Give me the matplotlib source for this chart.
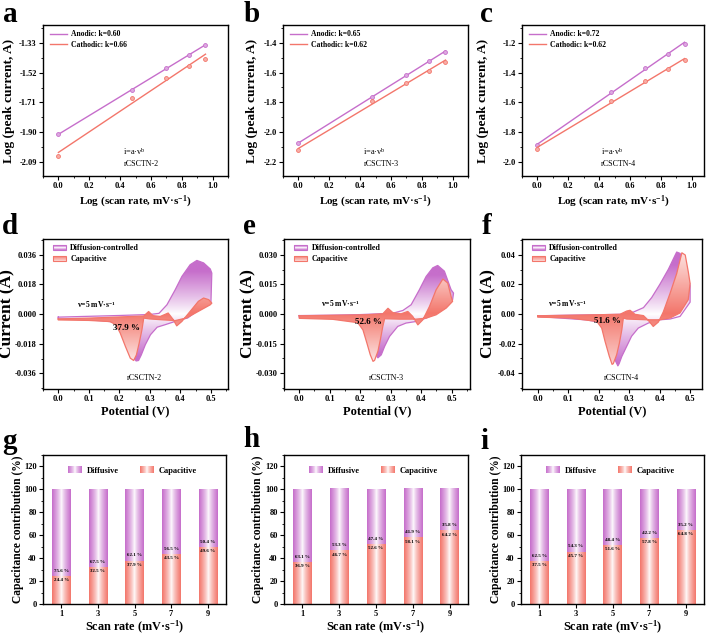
import numpy as np
import matplotlib
matplotlib.use('Agg')
import matplotlib.pyplot as plt
from matplotlib.patches import Polygon, Rectangle, Patch
from matplotlib.ticker import AutoMinorLocator, FixedLocator, FormatStrFormatter
from matplotlib.legend_handler import HandlerBase
from matplotlib.colors import to_rgb

plt.rcParams['font.family'] = ['Liberation Serif', 'DejaVu Serif']
plt.rcParams['font.weight'] = 'bold'
plt.rcParams['axes.labelweight'] = 'bold'
plt.rcParams['mathtext.default'] = 'regular'

PURPLE = '#c66ecb'
RED = '#f3766b'

# ---------------- data ----------------
# a-c: log(scan rate) vs log(peak current)
log_v = [0.0, 0.477, 0.699, 0.845, 0.954]
anodic_2 = [-1.912, -1.630, -1.493, -1.408, -1.345]
cathodic_2 = [-2.050, -1.679, -1.552, -1.478, -1.432]
anodic_3 = [-2.073, -1.761, -1.618, -1.525, -1.460]
cathodic_3 = [-2.120, -1.790, -1.667, -1.589, -1.529]
anodic_4 = [-1.886, -1.528, -1.372, -1.276, -1.207]
cathodic_4 = [-1.909, -1.588, -1.458, -1.376, -1.318]
k_anodic = ['0.60', '0.65', '0.72']
k_cathodic = ['0.66', '0.62', '0.62']
samples = ['rCSCTN-2', 'rCSCTN-3', 'rCSCTN-4']

# d-f: CV at 5 mV/s, total (diffusion) loop and capacitive loop
cv2_tot_v = [0.0, 0.10, 0.20, 0.30, 0.33, 0.356, 0.383, 0.405, 0.432, 0.454, 0.476, 0.498, 0.503, 0.500,
             0.459, 0.424, 0.383, 0.35, 0.324, 0.302, 0.285, 0.272, 0.263, 0.255, 0.245, 0.235, 0.222,
             0.205, 0.185, 0.15, 0.10, 0.05, 0.0]
cv2_tot_i = [-0.0019, -0.0014, -0.0009, -0.0003, 0.0004, 0.0056, 0.0147, 0.0228, 0.0299, 0.0325, 0.0310,
             0.0273, 0.0248, 0.0066, 0.0024, -0.0024, -0.0045, -0.0065, -0.0080, -0.0126, -0.0187,
             -0.0248, -0.0282, -0.0285, -0.0260, -0.0210, -0.0140, -0.0075, -0.0050, -0.0042, -0.0036,
             -0.0032, -0.0030]
cv2_cap_v = [0.0, 0.10, 0.20, 0.28, 0.296, 0.31, 0.334, 0.36, 0.377, 0.388, 0.405, 0.432, 0.459, 0.476,
             0.493, 0.503, 0.498, 0.459, 0.42, 0.383, 0.339, 0.30, 0.28, 0.274, 0.265, 0.256, 0.247,
             0.236, 0.22, 0.203, 0.189, 0.17, 0.10, 0.0]
cv2_cap_i = [-0.0030, -0.0025, -0.0018, -0.0012, 0.0015, -0.0010, -0.0015, 0.0006, -0.0035, -0.0072,
             -0.0045, 0.0016, 0.0077, 0.0097, 0.0087, 0.0066, 0.0056, 0.0016, -0.0024, -0.0040, -0.0035,
             -0.0030, -0.0025, -0.0096, -0.0177, -0.0248, -0.0282, -0.0268, -0.0197, -0.0116, -0.0066,
             -0.0046, -0.0039, -0.0036]

cv3_tot_v = [0.0, 0.10, 0.20, 0.307, 0.34, 0.367, 0.394, 0.416, 0.438, 0.454, 0.476, 0.498, 0.506, 0.503,
             0.482, 0.449, 0.416, 0.383, 0.35, 0.323, 0.296, 0.28, 0.269, 0.258, 0.248, 0.236, 0.222,
             0.205, 0.165, 0.10, 0.0]
cv3_tot_i = [-0.0008, -0.0006, -0.0003, 0.0004, 0.0018, 0.0047, 0.0123, 0.0190, 0.0234, 0.0246, 0.0217,
             0.0123, 0.0106, 0.0073, 0.0040, 0.0004, -0.0021, -0.0038, -0.0046, -0.0063, -0.0114,
             -0.0164, -0.0207, -0.0222, -0.0200, -0.0150, -0.0090, -0.0050, -0.0030, -0.0022, -0.0017]
cv3_cap_v = [0.0, 0.10, 0.22, 0.274, 0.291, 0.307, 0.334, 0.356, 0.372, 0.389, 0.405, 0.427, 0.449, 0.471,
             0.487, 0.498, 0.503, 0.482, 0.449, 0.416, 0.383, 0.329, 0.28, 0.274, 0.266, 0.258, 0.247,
             0.242, 0.233, 0.222, 0.209, 0.192, 0.11, 0.0]
cv3_cap_i = [-0.0009, -0.0007, -0.0004, 0.0001, 0.0029, 0.0007, 0.0001, 0.0013, -0.0012, -0.0055, -0.0030,
             0.0038, 0.0123, 0.0177, 0.0157, 0.0089, 0.0064, 0.0030, -0.0004, -0.0021, -0.0026, -0.0026,
             -0.0024, -0.0063, -0.0130, -0.0189, -0.0235, -0.0240, -0.0207, -0.0148, -0.0081, -0.0044,
             -0.0027, -0.0022]

cv4_tot_v = [0.0, 0.10, 0.20, 0.27, 0.314, 0.347, 0.374, 0.401, 0.429, 0.45, 0.456, 0.467, 0.482, 0.494,
             0.50, 0.50, 0.467, 0.434, 0.401, 0.363, 0.33, 0.308, 0.292, 0.276, 0.267, 0.263, 0.256,
             0.245, 0.232, 0.218, 0.20, 0.161, 0.051, 0.0]
cv4_tot_i = [-0.0012, -0.0008, -0.0005, -0.0002, 0.0013, 0.0043, 0.0111, 0.0201, 0.0303, 0.0393, 0.0418,
             0.0409, 0.0330, 0.0247, 0.0190, 0.0080, -0.0016, -0.0034, -0.0039, -0.0061, -0.0095, -0.0150,
             -0.0218, -0.0286, -0.0336, -0.0350, -0.0320, -0.0250, -0.0160, -0.0090, -0.0055, -0.0040,
             -0.0024, -0.0017]
cv4_cap_v = [0.0, 0.10, 0.20, 0.27, 0.292, 0.303, 0.319, 0.347, 0.363, 0.379, 0.396, 0.412, 0.434, 0.456,
             0.473, 0.484, 0.494, 0.50, 0.494, 0.467, 0.434, 0.401, 0.357, 0.292, 0.281, 0.276, 0.268,
             0.259, 0.248, 0.244, 0.235, 0.221, 0.21, 0.194, 0.106, 0.0]
cv4_cap_i = [-0.0012, -0.0009, -0.0005, -0.0002, 0.0020, 0.0025, -0.0002, -0.0011, -0.0043, -0.0084,
             -0.0054, 0.0014, 0.0138, 0.0273, 0.0413, 0.0398, 0.0285, 0.0206, 0.0097, 0.0007, -0.0027,
             -0.0039, -0.0039, -0.0034, -0.0027, -0.0106, -0.0196, -0.0275, -0.0335, -0.0340, -0.0286,
             -0.0185, -0.0095, -0.0050, -0.0027, -0.0021]
cap_pct_5 = ['37.9 %', '52.6 %', '51.6 %']

# g-i: capacitive / diffusive contribution
scan_rates = [1, 3, 5, 7, 9]
cap_2 = [24.4, 32.5, 37.9, 43.5, 49.6]
dif_2 = [75.6, 67.5, 62.1, 56.5, 50.4]
cap_3 = [36.9, 46.7, 52.6, 58.1, 64.2]
dif_3 = [63.1, 53.3, 47.4, 41.9, 35.8]
cap_4 = [37.5, 45.7, 51.6, 57.8, 64.8]
dif_4 = [62.5, 54.3, 48.4, 42.2, 35.2]

# ---------------- helpers ----------------
W, H = 709, 637


def rect(l, r, t, b):
    return [l / W, 1 - b / H, (r - l) / W, (b - t) / H]


def mix(color, t):
    c = np.array(to_rgb(color))
    return (1 - t) * np.ones(3) + t * c


class HandlerGrad(HandlerBase):
    def __init__(self, color, profile, vertical=True, edge=None, n=14):
        super().__init__()
        self.color, self.profile, self.vertical, self.edge, self.n = color, profile, vertical, edge, n

    def create_artists(self, legend, orig_handle, xd, yd, width, height, fontsize, trans):
        arts = []
        for k in range(self.n):
            u = (k + 0.5) / self.n
            col = mix(self.color, self.profile(u))
            if self.vertical:
                r = Rectangle((-xd, -yd + k * height / self.n), width, height / self.n + 0.2,
                              fc=col, ec='none', transform=trans)
            else:
                r = Rectangle((-xd + k * width / self.n, -yd), width / self.n + 0.2, height,
                              fc=col, ec='none', transform=trans)
            arts.append(r)
        if self.edge:
            arts.append(Rectangle((-xd, -yd), width, height, fill=False, ec=self.edge, lw=0.8,
                                  transform=trans))
        return arts


def style(ax):
    for s in ax.spines.values():
        s.set_linewidth(1.0)
    ax.tick_params(which='major', direction='out', length=3, width=0.8, labelsize=6, pad=1.5)
    ax.tick_params(which='minor', direction='out', length=1.6, width=0.6)
    ax.xaxis.set_minor_locator(AutoMinorLocator(2))
    ax.yaxis.set_minor_locator(AutoMinorLocator(2))
    for lab in ax.get_xticklabels() + ax.get_yticklabels():
        lab.set_fontweight('bold')


def labels(ax, xl, xs, yl, ys, ylx, xly):
    ax.set_xlabel(xl, fontsize=xs)
    ax.set_ylabel(yl, fontsize=ys)
    ax.xaxis.label.set_va('center')
    ax.yaxis.label.set_va('center')
    ax.yaxis.set_label_coords(ylx, 0.5)
    ax.xaxis.set_label_coords(0.5, xly)


def shade(ax, xs, ys, color, mode, z):
    pts = np.column_stack([xs, ys])
    poly = Polygon(pts, closed=True, fc='none', ec='none')
    ax.add_patch(poly)
    y0, y1 = min(ys), max(ys)
    m = max(abs(y0), abs(y1))
    yy = np.linspace(y0, y1, 300)
    if mode == 'out':
        t = np.clip(np.abs(yy) / (0.8 * m), 0, 1) ** 0.9
    else:
        t = 1 - 0.8 * np.clip(np.abs(yy) / m, 0, 1)
    img = np.array([mix(color, tt) for tt in t])[:, None, :]
    im = ax.imshow(img, extent=[min(xs), max(xs), y0, y1], origin='lower', aspect='auto',
                   zorder=z, interpolation='bilinear')
    im.set_clip_path(poly)


fig = plt.figure(figsize=(W / 100, H / 100), dpi=100)

letters = [('a', 3, 22), ('b', 244, 22), ('c', 480, 22),
           ('d', 2, 234), ('e', 243, 234), ('f', 482, 234),
           ('g', 2, 449), ('h', 243, 447), ('i', 480, 449)]
for ch, x, y in letters:
    fig.text(x / W, 1 - y / H, ch, fontsize=21, fontweight='bold', va='baseline', ha='left')

# ---------------- row 1 ----------------
top_rects = [rect(43, 228, 25, 176), rect(283, 468, 25, 176), rect(522, 704, 25, 176)]
top_ylims = [(-2.177, -1.218), (-2.292, -1.282), (-2.092, -1.082)]
top_xlims = [(-0.1, 1.1), (-0.1, 1.1), (-0.1, 1.08)]
top_ticks = [[-2.09, -1.90, -1.71, -1.52, -1.33], [-2.2, -2.0, -1.8, -1.6, -1.4],
             [-2.0, -1.8, -1.6, -1.4, -1.2]]
top_fmt = ['%.2f', '%.1f', '%.1f']
top_ylab_x = [-0.185, -0.168, -0.215]
anodic = [anodic_2, anodic_3, anodic_4]
cathodic = [cathodic_2, cathodic_3, cathodic_4]

for i in range(3):
    ax = fig.add_axes(top_rects[i])
    for ys, col, lab in [(anodic[i], PURPLE, f'Anodic: k={k_anodic[i]}'),
                         (cathodic[i], RED, f'Cathodic: k={k_cathodic[i]}')]:
        p = np.polyfit(log_v, ys, 1)
        ax.plot(log_v, np.polyval(p, log_v), color=col, lw=1.0, label=lab)
        ax.plot(log_v, ys, 'o', ms=2.8, mfc=mix(col, 0.6), mec=col, mew=0.6)
    ax.set_xlim(*top_xlims[i])
    ax.set_ylim(*top_ylims[i])
    ax.yaxis.set_major_locator(FixedLocator(top_ticks[i]))
    ax.yaxis.set_major_formatter(FormatStrFormatter(top_fmt[i]))
    ax.set_xticks([0.0, 0.2, 0.4, 0.6, 0.8, 1.0])
    ax.xaxis.set_major_formatter(FormatStrFormatter('%.1f'))
    style(ax)
    labels(ax, 'Log (scan rate, mV·s$^{-1}$)', 8, 'Log (peak current, A)', 9.6,
           top_ylab_x[i], -0.17)
    ax.legend(loc='upper left', bbox_to_anchor=(0.02, 0.985), frameon=False,
              handlelength=2.2, handletextpad=0.6, labelspacing=0.35, borderaxespad=0,
              prop={'weight': 'bold', 'size': 5.5})
    ax.text(0.435, 0.16, 'i=a·v$^{b}$', transform=ax.transAxes, fontsize=6,
            fontweight='normal', va='center')
    ax.text(0.435, 0.08, samples[i], transform=ax.transAxes, fontsize=5.8,
            fontweight='normal', va='center')

# ---------------- row 2 ----------------
mid_rects = [rect(43, 228, 239, 389), rect(284, 470, 239, 389), rect(522, 702, 239, 389)]
mid_xlims = [(-0.05, 0.556), (-0.05, 0.56), (-0.0515, 0.539)]
mid_ylims = [(-0.0455, 0.0455), (-0.038, 0.038), (-0.0506, 0.0506)]
mid_ticks = [[-0.036, -0.018, 0.0, 0.018, 0.036], [-0.030, -0.015, 0.0, 0.015, 0.030],
             [-0.04, -0.02, 0.0, 0.02, 0.04]]
mid_fmt = ['%.3f', '%.3f', '%.2f']
tot_v = [cv2_tot_v, cv3_tot_v, cv4_tot_v]
tot_i = [cv2_tot_i, cv3_tot_i, cv4_tot_i]
cap_v = [cv2_cap_v, cv3_cap_v, cv4_cap_v]
cap_i = [cv2_cap_i, cv3_cap_i, cv4_cap_i]
v_txt = [(0.29, 0.56), (0.305, 0.567), (0.25, 0.567)]
pct_txt = [(0.45, 0.41), (0.456, 0.449), (0.474, 0.453)]
mid_ylab_x = [-0.19, -0.19, -0.185]

for i in range(3):
    ax = fig.add_axes(mid_rects[i])
    shade(ax, tot_v[i], tot_i[i], PURPLE, 'out', 1)
    ax.plot(tot_v[i] + [tot_v[i][0]], tot_i[i] + [tot_i[i][0]], color=PURPLE, lw=0.9, zorder=2)
    shade(ax, cap_v[i], cap_i[i], RED, 'in', 3)
    ax.plot(cap_v[i] + [cap_v[i][0]], cap_i[i] + [cap_i[i][0]], color=RED, lw=0.9, zorder=4)
    ax.set_xlim(*mid_xlims[i])
    ax.set_ylim(*mid_ylims[i])
    ax.yaxis.set_major_locator(FixedLocator(mid_ticks[i]))
    ax.yaxis.set_major_formatter(FormatStrFormatter(mid_fmt[i]))
    ax.set_xticks([0.0, 0.1, 0.2, 0.3, 0.4, 0.5])
    ax.xaxis.set_major_formatter(FormatStrFormatter('%.1f'))
    style(ax)
    labels(ax, 'Potential (V)', 9, 'Current (A)', 12.5, mid_ylab_x[i], -0.15)
    h1 = Patch(label='Diffusion-controlled')
    h2 = Patch(label='Capacitive')
    ax.legend(handles=[h1, h2], loc='upper left', bbox_to_anchor=(0.035, 0.985), frameon=False,
              handlelength=1.7, handleheight=0.6, handletextpad=0.5, labelspacing=0.35,
              borderaxespad=0, prop={'weight': 'bold', 'size': 5.8},
              handler_map={h1: HandlerGrad(PURPLE, lambda u: abs(2 * u - 1) ** 0.8, True, PURPLE),
                           h2: HandlerGrad(RED, lambda u: 0.25 + 0.75 * u, True, RED)})
    ax.text(*v_txt[i], 'v=5 mV·s$^{-1}$', transform=ax.transAxes, fontsize=5.5, ha='center',
            va='center', zorder=6)
    ax.text(*pct_txt[i], cap_pct_5[i], transform=ax.transAxes, fontsize=6.5, ha='center',
            va='center', zorder=6)
    ax.text(0.55, 0.07, samples[i], transform=ax.transAxes, fontsize=5.8, fontweight='normal',
            ha='center', va='center', zorder=6)

# ---------------- row 3 ----------------
bot_rects = [rect(43, 226, 455, 604), rect(284, 468, 455, 604), rect(521, 704, 455, 604)]
caps = [cap_2, cap_3, cap_4]
difs = [dif_2, dif_3, dif_4]
bot_ylab_x = [-0.135, -0.14, -0.135]


def bar_grad(ax, patch, color):
    u = np.linspace(0, 1, 60)
    t = np.abs(2 * u - 1) ** 0.75
    img = np.array([mix(color, tt) for tt in t])[None, :, :]
    x, y = patch.get_x(), patch.get_y()
    ax.imshow(img, extent=[x, x + patch.get_width(), y, y + patch.get_height()], origin='lower',
              aspect='auto', zorder=2, interpolation='bilinear')


for i in range(3):
    ax = fig.add_axes(bot_rects[i])
    b1 = ax.bar(scan_rates, caps[i], width=1.0, color='none', zorder=1)
    b2 = ax.bar(scan_rates, difs[i], bottom=caps[i], width=1.0, color='none', zorder=1)
    for p in b1:
        bar_grad(ax, p, RED)
    for p in b2:
        bar_grad(ax, p, PURPLE)
    for x, c, d in zip(scan_rates, caps[i], difs[i]):
        ax.text(x, c + 4.5, f'{d:.1f} %', fontsize=3.6, ha='center', va='center', zorder=5)
        ax.text(x, c - 3.6, f'{c:.1f} %', fontsize=3.6, ha='center', va='center', zorder=5)
    ax.set_xlim(0, 10)
    ax.set_ylim(0, 130)
    ax.set_xticks(scan_rates)
    ax.set_yticks([0, 20, 40, 60, 80, 100, 120])
    style(ax)
    ax.xaxis.set_minor_locator(FixedLocator([]))
    labels(ax, 'Scan rate (mV·s$^{-1}$)', 8.8, 'Capacitance contribution (%)', 8.3,
           bot_ylab_x[i], -0.16)
    h1 = Patch(label='Diffusive')
    h2 = Patch(label='Capacitive')
    ax.legend(handles=[h1, h2], loc='center left', bbox_to_anchor=(0.12, 0.895), frameon=False,
              ncol=2, handlelength=1.6, handleheight=0.9, handletextpad=0.6, columnspacing=2.6,
              borderaxespad=0, prop={'weight': 'bold', 'size': 6},
              handler_map={h1: HandlerGrad(PURPLE, lambda u: abs(2 * u - 1) ** 0.75, False),
                           h2: HandlerGrad(RED, lambda u: abs(2 * u - 1) ** 0.75, False)})

fig.savefig('out.png', dpi=100)
